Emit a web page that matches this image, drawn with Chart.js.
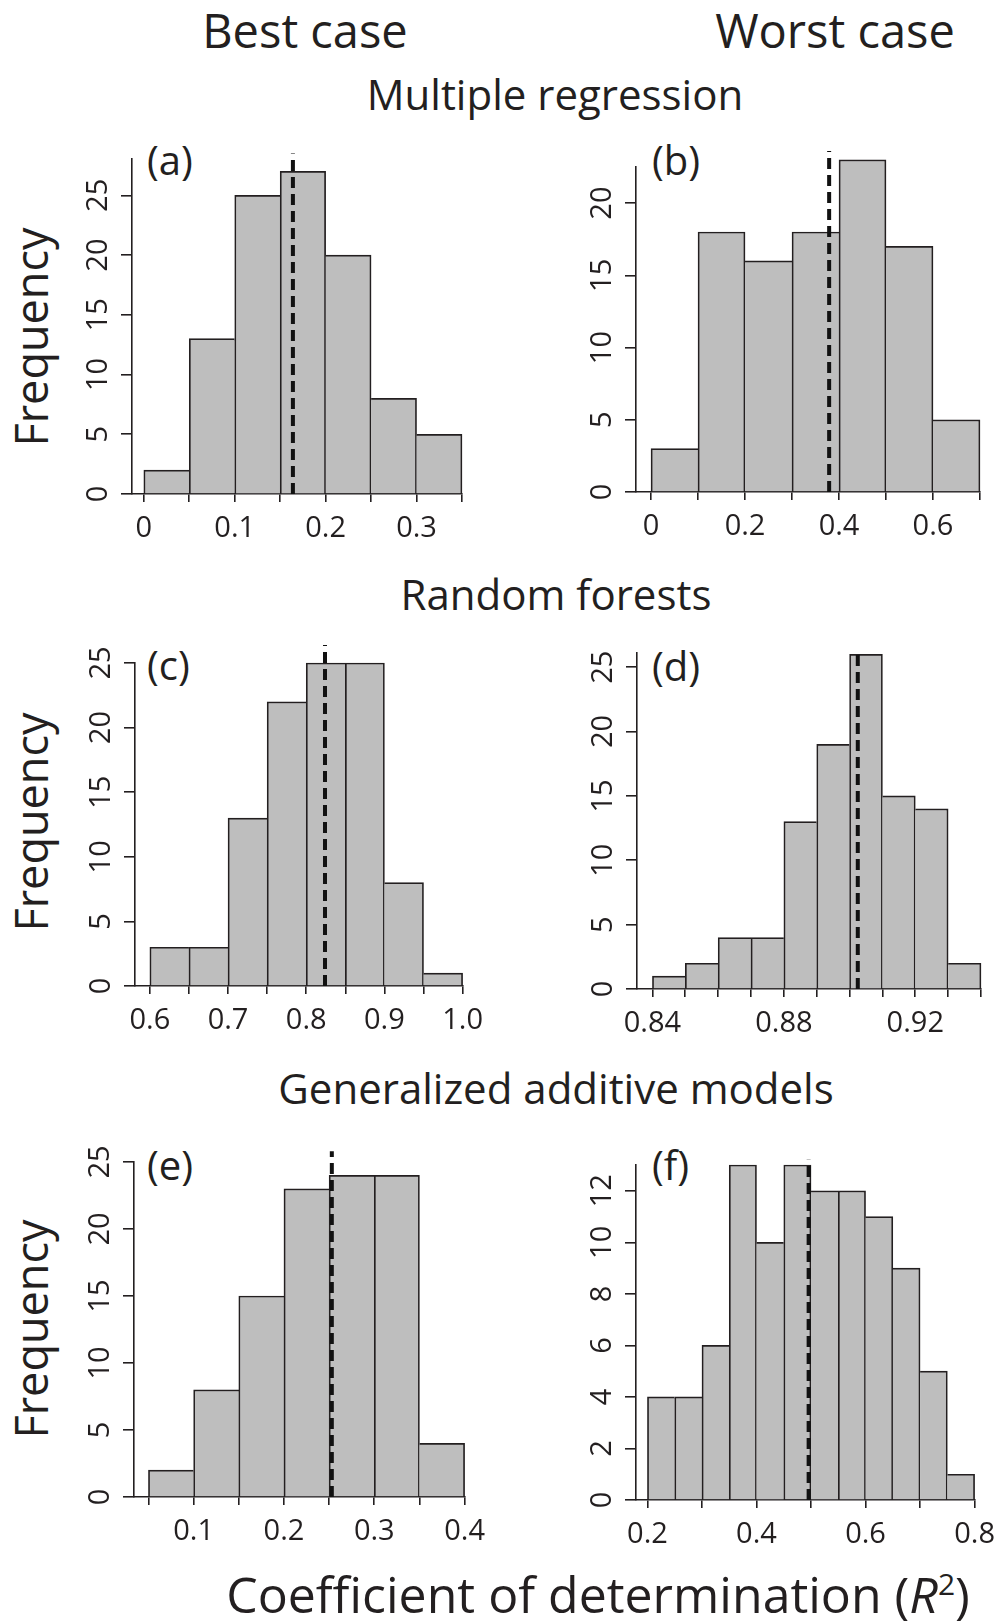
<!DOCTYPE html>
<html>
<head>
<meta charset="utf-8">
<script src="https://cdn.jsdelivr.net/npm/chart.js@4.4.0/dist/chart.umd.min.js"></script>
<style>
  body { margin: 0; background: #fff; }
  #page { position: relative; width: 1002px; height: 1621px; overflow: hidden;
          font-family: "Open Sans", sans-serif; color: #231f20; }
  .t { position: absolute; white-space: nowrap; line-height: 1; }
  .c { transform: translateX(-50%); }
  .rot { transform: translate(-50%, -50%) rotate(-90deg); }
  canvas { position: absolute; }
</style>
</head>
<body>
<div id="page">
  <div class="t c" style="left:305px; top:7px; font-size:47px;">Best case</div>
  <div class="t c" style="left:835px; top:7px; font-size:47px;">Worst case</div>
  <div class="t c" style="left:555px; top:73px; font-size:42px;">Multiple regression</div>
  <div class="t c" style="left:556px; top:573px; font-size:42px;">Random forests</div>
  <div class="t c" style="left:556px; top:1067px; font-size:42px;">Generalized additive models</div>
  <div class="t c" style="left:598px; top:1569px; font-size:50px;">Coefficient of determination (<i>R</i><span style="font-size:0.6em; position:relative; top:-18px;">2</span>)</div>

  <div class="t rot" style="left:30px; top:337px; font-size:45px;">Frequency</div>
  <div class="t rot" style="left:30px; top:822px; font-size:45px;">Frequency</div>
  <div class="t rot" style="left:30px; top:1329px; font-size:45px;">Frequency</div>

  <div class="t" style="left:147px; top:140px; font-size:40px;">(a)</div>
  <div class="t" style="left:652px; top:140px; font-size:40px;">(b)</div>
  <div class="t" style="left:147px; top:645px; font-size:40px;">(c)</div>
  <div class="t" style="left:652px; top:646px; font-size:40px;">(d)</div>
  <div class="t" style="left:147px; top:1145px; font-size:40px;">(e)</div>
  <div class="t" style="left:652px; top:1145px; font-size:40px;">(f)</div>
</div>
<script>
// (a) multiple regression, best case
const aBreaks = [0, 0.05, 0.1, 0.15, 0.2, 0.25, 0.3, 0.35];
const aCounts = [2, 13, 25, 27, 20, 8, 5];
const aMean = 0.164;
const aXTicks = [0, 0.05, 0.1, 0.15, 0.2, 0.25, 0.3, 0.35];
const aXLabels = ['0', '', '0.1', '', '0.2', '', '0.3', ''];
const aYTicks = [0, 5, 10, 15, 20, 25];

// (b) multiple regression, worst case
const bBreaks = [0, 0.1, 0.2, 0.3, 0.4, 0.5, 0.6, 0.7];
const bCounts = [3, 18, 16, 18, 23, 17, 5];
const bMean = 0.379;
const bXTicks = [0, 0.1, 0.2, 0.3, 0.4, 0.5, 0.6, 0.7];
const bXLabels = ['0', '', '0.2', '', '0.4', '', '0.6', ''];
const bYTicks = [0, 5, 10, 15, 20];

// (c) random forests, best case
const cBreaks = [0.6, 0.65, 0.7, 0.75, 0.8, 0.85, 0.9, 0.95, 1.0];
const cCounts = [3, 3, 13, 22, 25, 25, 8, 1];
const cMean = 0.824;
const cXTicks = [0.6, 0.65, 0.7, 0.75, 0.8, 0.85, 0.9, 0.95, 1.0];
const cXLabels = ['0.6', '', '0.7', '', '0.8', '', '0.9', '', '1.0'];
const cYTicks = [0, 5, 10, 15, 20, 25];

// (d) random forests, worst case
const dBreaks = [0.84, 0.85, 0.86, 0.87, 0.88, 0.89, 0.90, 0.91, 0.92, 0.93, 0.94];
const dCounts = [1, 2, 4, 4, 13, 19, 26, 15, 14, 2];
const dMean = 0.9025;
const dXTicks = [0.84, 0.85, 0.86, 0.87, 0.88, 0.89, 0.90, 0.91, 0.92, 0.93, 0.94];
const dXLabels = ['0.84', '', '', '', '0.88', '', '', '', '0.92', '', ''];
const dYTicks = [0, 5, 10, 15, 20, 25];

// (e) GAM, best case
const eBreaks = [0.05, 0.1, 0.15, 0.2, 0.25, 0.3, 0.35, 0.4];
const eCounts = [2, 8, 15, 23, 24, 24, 4];
const eMean = 0.253;
const eXTicks = [0.05, 0.1, 0.15, 0.2, 0.25, 0.3, 0.35, 0.4];
const eXLabels = ['', '0.1', '', '0.2', '', '0.3', '', '0.4'];
const eYTicks = [0, 5, 10, 15, 20, 25];

// (f) GAM, worst case
const fBreaks = [0.2, 0.25, 0.3, 0.35, 0.4, 0.45, 0.5, 0.55, 0.6, 0.65, 0.7, 0.75, 0.8];
const fCounts = [4, 4, 6, 13, 10, 13, 12, 12, 11, 9, 5, 1];
const fMean = 0.4956;
const fXTicks = [0.2, 0.3, 0.4, 0.5, 0.6, 0.7, 0.8];
const fXLabels = ['0.2', '', '0.4', '', '0.6', '', '0.8'];
const fYTicks = [0, 2, 4, 6, 8, 10, 12];

const ink = '#231f20';
const fill = '#bebebe';
const tickFont = { family: '"Open Sans", sans-serif', size: 29 };

// plot box in page pixels: [left, right, top, bottom], plus axis ranges
const panels = [
  { breaks: aBreaks, counts: aCounts, mean: aMean, xTicks: aXTicks, xLabels: aXLabels, yTicks: aYTicks,
    xMin: -0.013, yMax: 28.04, meanTop: 28.5, box: [132, 462, 159, 494] },
  { breaks: bBreaks, counts: bCounts, mean: bMean, xTicks: bXTicks, xLabels: bXLabels, yTicks: bYTicks,
    xMin: -0.032, yMax: 22.5, meanTop: 23.6, box: [636, 980, 167, 492] },
  { breaks: cBreaks, counts: cCounts, mean: cMean, xTicks: cXTicks, xLabels: cXLabels, yTicks: cYTicks,
    xMin: 0.581, yMax: 25, meanTop: 26.4, box: [135, 466, 663, 986] },
  { breaks: dBreaks, counts: dCounts, mean: dMean, xTicks: dXTicks, xLabels: dXLabels, yTicks: dYTicks,
    xMin: 0.8353, yMax: 26.1, meanTop: 26.4, box: [637, 981, 653, 989] },
  { breaks: eBreaks, counts: eCounts, mean: eMean, xTicks: eXTicks, xLabels: eXLabels, yTicks: eYTicks,
    xMin: 0.034, yMax: 25, meanTop: 25.8, box: [134, 468, 1162, 1497] },
  { breaks: fBreaks, counts: fCounts, mean: fMean, xTicks: fXTicks, xLabels: fXLabels, yTicks: fYTicks,
    xMin: 0.179, yMax: 13.0, meanTop: 13.2, box: [636, 978, 1165, 1500] }
];

const padL = 80, padR = 26, padT = 40, padB = 60;
const page = document.getElementById('page');
const bw = 1.7;

panels.forEach(p => {
  const [L, R, T, B] = p.box;
  const cv = document.createElement('canvas');
  cv.width = R - L + padL + padR;
  cv.height = B - T + padT + padB;
  cv.style.left = (L - padL) + 'px';
  cv.style.top = (T - padT) + 'px';
  page.appendChild(cv);

  const bars = p.counts.map((n, i) => ({ x: (p.breaks[i] + p.breaks[i + 1]) / 2, y: n }));
  const last = p.counts.length - 1;

  new Chart(cv, {
    type: 'bar',
    data: {
      datasets: [
        {
          type: 'line',
          data: [{ x: p.mean, y: 0 }, { x: p.mean, y: p.meanTop }],
          borderColor: '#111',
          borderWidth: 4,
          borderDash: [11, 6],
          pointRadius: 0,
          clip: false,
          order: 0
        },
        {
          data: bars,
          backgroundColor: fill,
          borderColor: ink,
          borderWidth: ctx => {
            const i = ctx.dataIndex, c = p.counts;
            return {
              top: bw,
              left: (i === 0 || c[i - 1] <= c[i]) ? bw : 0,
              right: (i === last || c[i + 1] < c[i]) ? bw : 0,
              bottom: 0
            };
          },
          barPercentage: 1,
          categoryPercentage: 1,
          clip: false,
          order: 1
        }
      ]
    },
    options: {
      responsive: false,
      animation: false,
      events: [],
      layout: { padding: { left: 0, right: padR, top: padT, bottom: 0 } },
      plugins: { legend: { display: false }, tooltip: { enabled: false } },
      scales: {
        x: {
          type: 'linear',
          min: p.xMin,
          max: p.breaks[p.breaks.length - 1],
          offset: false,
          afterBuildTicks: s => { s.ticks = p.xTicks.map(v => ({ value: v })); },
          afterFit: s => { s.height = padB; },
          ticks: {
            autoSkip: false, maxRotation: 0, minRotation: 0,
            padding: 9, color: ink, font: tickFont,
            callback: (v, i) => p.xLabels[i]
          },
          grid: { offset: false, drawOnChartArea: false, drawTicks: true, tickLength: 8, color: ink, lineWidth: 1.6 },
          border: { display: true, color: ink, width: 1.6 }
        },
        y: {
          type: 'linear',
          min: 0,
          max: p.yMax,
          afterBuildTicks: s => { s.ticks = p.yTicks.map(v => ({ value: v })); },
          afterFit: s => { s.width = padL; },
          ticks: {
            autoSkip: false, minRotation: 90, maxRotation: 90, crossAlign: 'center',
            padding: 6, color: ink, font: tickFont,
            callback: v => String(v)
          },
          grid: { drawOnChartArea: false, drawTicks: true, tickLength: 11, color: ink, lineWidth: 1.6 },
          border: { display: true, color: ink, width: 1.6 }
        }
      }
    }
  });
});
</script>
</body>
</html>
